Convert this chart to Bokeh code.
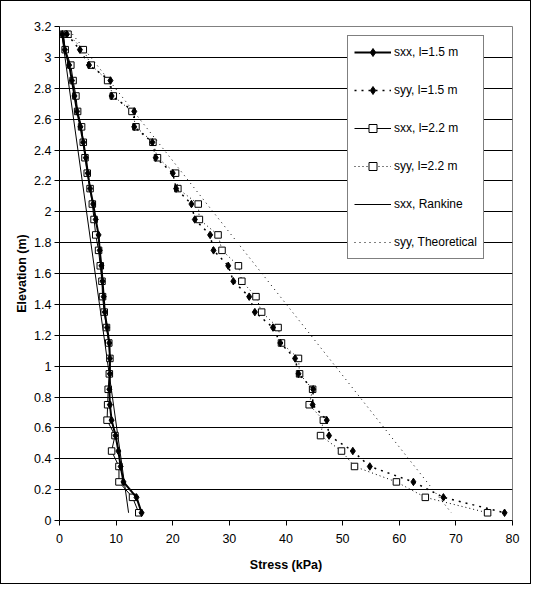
from bokeh.plotting import figure
from bokeh.models import Range1d, FixedTicker, NumeralTickFormatter, Legend, LegendItem
from bokeh.embed import file_html
from bokeh.resources import INLINE

# ---------------- data ----------------
elev = [3.15, 3.05, 2.95, 2.85, 2.75, 2.65, 2.55, 2.45, 2.35, 2.25, 2.15, 2.05,
        1.95, 1.85, 1.75, 1.65, 1.55, 1.45, 1.35, 1.25, 1.15, 1.05, 0.95, 0.85,
        0.75, 0.65, 0.55, 0.45, 0.35, 0.25, 0.15, 0.05]

sxx_15 = [0.5, 0.95, 1.7, 2.2, 2.65, 3.1, 3.7, 4.2, 4.65, 5.0, 5.4, 5.95,
          6.4, 6.9, 7.1, 7.4, 7.6, 7.8, 8.0, 8.4, 8.8, 8.9, 8.9, 8.8,
          8.9, 9.2, 9.9, 10.4, 10.8, 11.3, 13.6, 14.5]

syy_15 = [1.3, 3.6, 5.2, 9.0, 9.2, 13.2, 13.2, 16.4, 17.0, 20.0, 20.6, 23.3,
          23.9, 26.6, 27.2, 29.8, 30.7, 33.5, 34.5, 37.7, 39.0, 41.6, 42.2, 44.8,
          44.7, 47.2, 47.6, 51.8, 54.8, 62.5, 67.8, 78.6]

sxx_22 = [0.7, 1.0, 2.0, 2.4, 2.9, 3.2, 3.9, 4.2, 4.5, 4.9, 5.4, 5.8,
          6.1, 6.4, 6.9, 7.2, 7.5, 7.6, 7.9, 8.3, 8.7, 8.9, 8.8, 8.6,
          8.5, 8.4, 9.8, 9.2, 10.5, 10.5, 12.9, 14.0]

syy_22 = [1.5, 4.2, 5.6, 8.5, 9.5, 12.8, 13.5, 16.5, 17.3, 20.5, 20.9, 24.5,
          24.7, 28.0, 28.7, 31.6, 32.2, 34.7, 35.7, 38.6, 39.2, 42.2, 42.4, 44.7,
          44.1, 46.6, 46.1, 49.8, 52.1, 59.5, 64.6, 75.6]

rankine_elev = [3.15, 0.05]
sxx_rankine = [0.4, 12.2]

theory_elev = [3.15, 0.05]
syy_theory = [2.3, 69.2]

x_ticks = [0, 10, 20, 30, 40, 50, 60, 70, 80]
y_ticks = [0, 0.2, 0.4, 0.6, 0.8, 1.0, 1.2, 1.4, 1.6, 1.8, 2.0, 2.2, 2.4, 2.6,
           2.8, 3.0, 3.2]

labels = ["sxx, l=1.5 m", "syy, l=1.5 m", "sxx, l=2.2 m", "syy, l=2.2 m",
          "sxx, Rankine", "syy, Theoretical"]

FONT = "Liberation Sans"

# ---------------- figure ----------------
p = figure(frame_width=453, frame_height=494,
           x_range=Range1d(0, 80), y_range=Range1d(0, 3.2),
           output_backend="svg", toolbar_location=None,
           min_border_left=58, min_border_right=18,
           min_border_top=25, min_border_bottom=63)
p.background_fill_color = "white"
p.border_fill_color = "white"
p.outline_line_color = "#808080"
p.outline_line_width = 1
p.styles = {"border": "1px solid black"}

p.xgrid.grid_line_color = None
p.ygrid.grid_line_color = "black"
p.ygrid.grid_line_width = 1
p.ygrid.ticker = FixedTicker(ticks=y_ticks)

for ax in (p.xaxis[0], p.yaxis[0]):
    ax.axis_line_color = "black"
    ax.major_tick_line_color = "black"
    ax.major_tick_out = 5
    ax.major_tick_in = 0
    ax.minor_tick_line_color = None
    ax.major_label_text_font = FONT
    ax.major_label_text_font_size = "12.5px"
    ax.major_label_text_color = "black"
    ax.axis_label_text_font = FONT
    ax.axis_label_text_font_size = "12.5px"
    ax.axis_label_text_font_style = "bold"
    ax.axis_label_text_color = "black"

p.xaxis.ticker = FixedTicker(ticks=x_ticks)
p.yaxis.ticker = FixedTicker(ticks=y_ticks)
p.yaxis.formatter = NumeralTickFormatter(format="0.[0]")
p.xaxis.axis_label = "Stress (kPa)"
p.yaxis.axis_label = "Elevation (m)"
p.xaxis.major_label_standoff = 8
p.xaxis.axis_label_standoff = 12
p.yaxis.major_label_standoff = 3
p.yaxis.axis_label_standoff = 2

# ---------------- series ----------------
r_rank = p.line(sxx_rankine, rankine_elev, line_color="black", line_width=1)
r_theo = p.line(syy_theory, theory_elev, line_color="black", line_width=1,
                line_dash="1 4")

l22x = p.line(sxx_22, elev, line_color="black", line_width=1)
m22x = p.scatter(sxx_22, elev, marker="square", size=6.5, fill_color="white",
                 line_color="black", line_width=1)
l22y = p.line(syy_22, elev, line_color="black", line_width=1, line_dash="1 3")
m22y = p.scatter(syy_22, elev, marker="square", size=6.5, fill_color="white",
                 line_color="black", line_width=1)

l15x = p.line(sxx_15, elev, line_color="black", line_width=2)
m15x = p.scatter(sxx_15, elev, marker="diamond", size=7.5, fill_color="black",
                 line_color="black")
l15y = p.line(syy_15, elev, line_color="black", line_width=1.5, line_dash="2 5")
m15y = p.scatter(syy_15, elev, marker="diamond", size=7.5, fill_color="black",
                 line_color="black")

legend = Legend(items=[
    LegendItem(label=labels[0], renderers=[l15x, m15x]),
    LegendItem(label=labels[1], renderers=[l15y, m15y]),
    LegendItem(label=labels[2], renderers=[l22x, m22x]),
    LegendItem(label=labels[3], renderers=[l22y, m22y]),
    LegendItem(label=labels[4], renderers=[r_rank]),
    LegendItem(label=labels[5], renderers=[r_theo]),
])
legend.location = (288, 261)
legend.padding = 6
legend.spacing = 18
legend.margin = 0
legend.glyph_height = 20
legend.glyph_width = 37
legend.label_height = 20
legend.label_standoff = 3
legend.border_line_color = "black"
legend.border_line_width = 1
legend.background_fill_color = "white"
legend.background_fill_alpha = 1
legend.label_text_font = FONT
legend.label_text_font_size = "12px"
legend.label_text_color = "black"
p.add_layout(legend, "center")

open("out.html", "w").write(file_html(p, INLINE))
